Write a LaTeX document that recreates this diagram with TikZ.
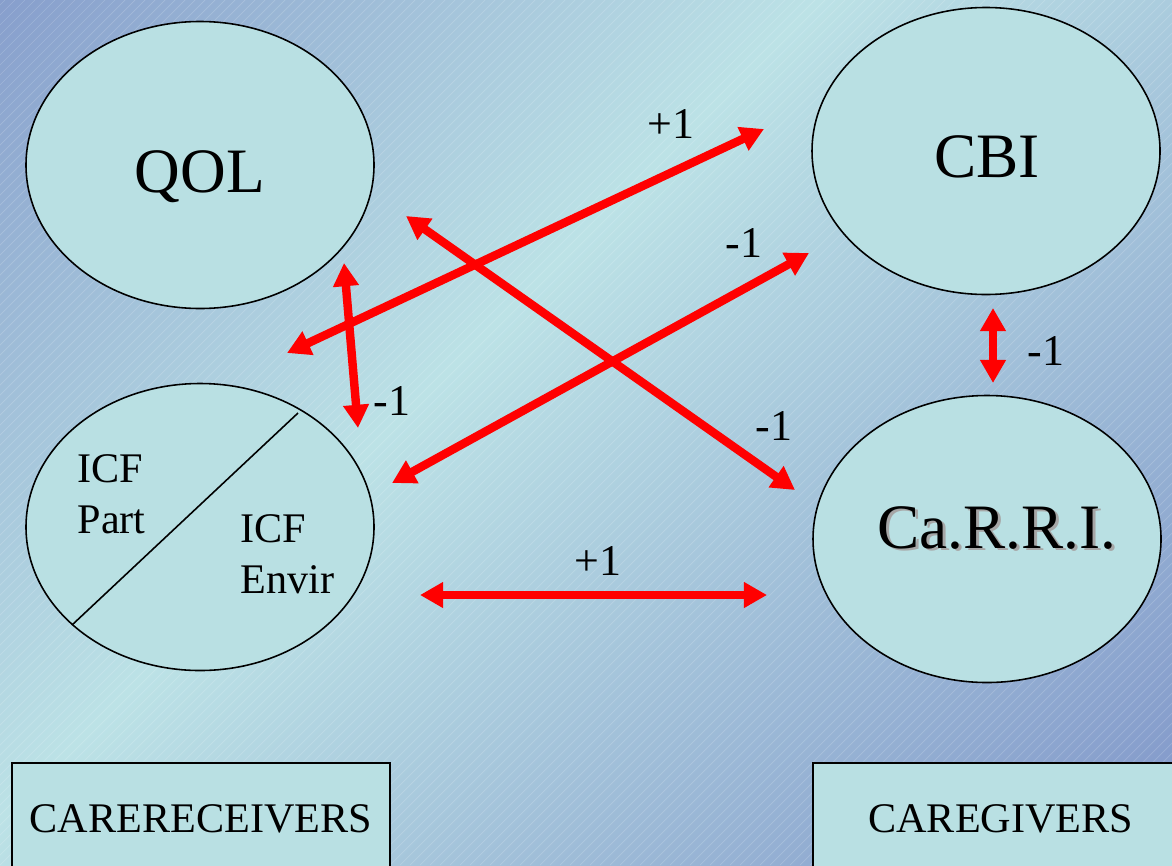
\documentclass[tikz,border=0pt]{standalone}
\usepackage{fontspec}
\setmainfont{Liberation Serif}
\usetikzlibrary{shapes.geometric, arrows.meta}
\definecolor{SLIDEdark}{HTML}{6C7CBF}
\definecolor{SLIDElight}{HTML}{BCE2E6}
\definecolor{SLIDEcyan}{HTML}{B9E0E3}
\definecolor{SLIDEred}{HTML}{FF0000}
\pgfdeclarehorizontalshading{slide}{100bp}{color(0bp)=(SLIDEdark); color(43bp)=(SLIDElight); color(100bp)=(SLIDEdark)}

\begin{document}
\begin{tikzpicture}[x=0.1mm, y=-0.1mm,
   oval/.style={ellipse, draw, line width=0.45pt, fill=SLIDEcyan,
      minimum width=34.8mm, minimum height=28.7mm, inner sep=0pt},
   group/.style={rectangle, draw, line width=0.45pt, fill=SLIDEcyan,
      anchor=north west, minimum height=11.2mm, inner sep=0pt,
      font=\fontsize{12}{14}\selectfont},
   title/.style={anchor=base, inner sep=0pt, font=\fontsize{18}{21}\selectfont},
   half/.style={anchor=north west, inner sep=0pt, align=left,
      font=\fontsize{12}{14.4}\selectfont},
   link/.style={{Triangle[length=6.6pt, width=7pt]}-{Triangle[length=6.6pt, width=7pt]},
      SLIDEred, line width=2.4pt},
   weight/.style={anchor=base, inner sep=0pt, font=\fontsize{12.5}{14}\selectfont}]
   % Slide background
   \useasboundingbox (0,0) rectangle (1172,865);
   \shade[shading=slide, shading angle=-45] (0,0) rectangle (1172,865);
   \begin{scope}
      \clip (0,0) rectangle (1172,865);
      \foreach \k in {-870,-860,...,1180}
         \draw[white, line width=0.2pt, draw opacity=0.18] (\k,865) -- (\k+865,0);
   \end{scope}
   % Measures
   \node[oval] (qol) at (200,165) {};
   \node[oval] (cbi) at (986,151) {};
   \node[oval] (icf) at (200,527) {};
   \node[oval] (carri) at (987,539) {};
   \node[title] (qol-t) at (200,192) {QOL};
   \node[title] (cbi-t) at (987,177) {CBI};
   \node[title, text=black!35] (carri-s) at (999.5,550.5) {Ca.R.R.I.};
   \node[title] (carri-t) at (997,548) {Ca.R.R.I.};
   % ICF split in two halves
   \draw[line width=0.45pt] (298,413) -- (72,625);
   \node[half] (icf-part) at (77,454) {ICF\\Part};
   \node[half] (icf-envir) at (240,514) {ICF\\Envir};
   % Groups
   \node[group, minimum width=37.8mm] (receivers) at (11,762) {CARERECEIVERS};
   \node[group, minimum width=37.6mm] (givers) at (812,762) {CAREGIVERS};
   % Correlation arrows
   \coordinate (l1a) at (287,353);  \coordinate (l1b) at (764,129);
   \coordinate (l2a) at (344,263);  \coordinate (l2b) at (358,428);
   \coordinate (l3a) at (406,216);  \coordinate (l3b) at (795,490);
   \coordinate (l4a) at (392,483);  \coordinate (l4b) at (809,253);
   \coordinate (l5a) at (993,308);  \coordinate (l5b) at (993,383);
   \coordinate (l6a) at (420,595);  \coordinate (l6b) at (767,595);
   \draw[link] (l1a) -- (l1b);
   \draw[link] (l2a) -- (l2b);
   \draw[link] (l3a) -- (l3b);
   \draw[link] (l4a) -- (l4b);
   \draw[link] (l5a) -- (l5b);
   \draw[link] (l6a) -- (l6b);
   % Signs
   \node[weight] (w1) at (671,138) {+1};
   \node[weight] (w2) at (392,415) {-1};
   \node[weight] (w3) at (774,440) {-1};
   \node[weight] (w4) at (744,257) {-1};
   \node[weight] (w5) at (1046,365) {-1};
   \node[weight] (w6) at (598,575) {+1};
\end{tikzpicture}
\end{document}
